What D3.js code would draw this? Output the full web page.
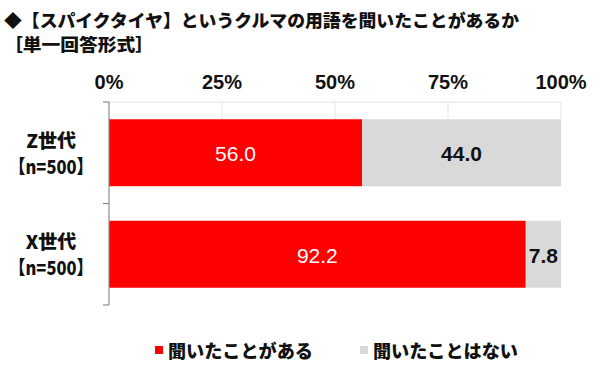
<!DOCTYPE html>
<html lang="ja">
<head>
<meta charset="utf-8">
<title>スパイクタイヤ</title>
<script src="https://cdn.jsdelivr.net/npm/d3@7/dist/d3.min.js"></script>
<style>
  body { margin: 0; background: #fff; }
  svg { display: block; font-family: "Liberation Sans", Arial, "Noto Sans CJK JP", sans-serif; }
  .jp { font-family: "Noto Sans CJK JP", sans-serif; font-weight: 900; }
</style>
</head>
<body>
<div id="chart"></div>
<script>
// data
var titleLines = ['◆【スパイクタイヤ】というクルマの用語を聞いたことがあるか', '［単一回答形式］'];
var titleWidths = [515, 150];
var groups = ['Z世代', 'X世代'];
var groupN = ['【n=500】', '【n=500】'];
var heard = [56.0, 92.2];
var notHeard = [44.0, 7.8];
var seriesNames = ['聞いたことがある', '聞いたことはない'];
var seriesColors = ['#ff0000', '#d9d9d9'];
var tickValues = [0, 25, 50, 75, 100];

var W = 600, H = 388;
var margin = { top: 102, right: 39, bottom: 83, left: 109 };

var svg = d3.select('#chart').append('svg')
  .attr('width', W).attr('height', H);

// title, squeezed to the reference width
svg.selectAll('.title').data(titleLines).enter().append('text')
  .attr('class', 'title jp')
  .attr('x', 4)
  .attr('y', function(d, i) { return 27 + i * 24; })
  .attr('font-size', 17.5)
  .attr('fill', '#111')
  .attr('textLength', function(d, i) { return titleWidths[i]; })
  .attr('lengthAdjust', 'spacingAndGlyphs')
  .text(function(d) { return d; });

var x = d3.scaleLinear().domain([0, 100]).range([margin.left, W - margin.right]);
var y = d3.scaleBand().domain(groups)
  .range([margin.top, H - margin.bottom])
  .paddingInner(0.34).paddingOuter(0.17);

// gridlines (only visible above the first bar)
var g = svg.append('g');
g.append('line')
  .attr('x1', x(0)).attr('x2', x(100))
  .attr('y1', margin.top).attr('y2', margin.top)
  .attr('stroke', '#e3e3e3').attr('stroke-width', 1);
g.selectAll('.grid').data(tickValues.slice(1)).enter().append('line')
  .attr('x1', function(d) { return x(d); }).attr('x2', function(d) { return x(d); })
  .attr('y1', margin.top).attr('y2', y(groups[0]))
  .attr('stroke', '#e3e3e3').attr('stroke-width', 1);

// x tick labels on top
svg.selectAll('.xt').data(tickValues).enter().append('text')
  .attr('x', function(d) { return x(d); })
  .attr('y', 89)
  .attr('text-anchor', 'middle')
  .attr('font-size', 20)
  .attr('font-weight', 'bold')
  .attr('fill', '#111')
  .text(function(d) { return d + '%'; });

// bars
var rows = groups.map(function(gname, i) { return { g: gname, n: groupN[i], a: heard[i], b: notHeard[i] }; });

svg.selectAll('.barA').data(rows).enter().append('rect')
  .attr('x', x(0))
  .attr('y', function(d) { return y(d.g); })
  .attr('width', function(d) { return x(d.a) - x(0); })
  .attr('height', y.bandwidth())
  .attr('fill', seriesColors[0]);

svg.selectAll('.barB').data(rows).enter().append('rect')
  .attr('x', function(d) { return x(d.a); })
  .attr('y', function(d) { return y(d.g); })
  .attr('width', function(d) { return x(d.a + d.b) - x(d.a); })
  .attr('height', y.bandwidth())
  .attr('fill', seriesColors[1]);

// value labels
svg.selectAll('.valA').data(rows).enter().append('text')
  .attr('x', function(d) { return (x(0) + x(d.a)) / 2; })
  .attr('y', function(d) { return y(d.g) + y.bandwidth() / 2; })
  .attr('dy', '0.4em')
  .attr('text-anchor', 'middle')
  .attr('font-size', 21)
  .attr('fill', '#fff')
  .text(function(d) { return d.a.toFixed(1); });

svg.selectAll('.valB').data(rows).enter().append('text')
  .attr('x', function(d) { return (x(d.a) + x(d.a + d.b)) / 2; })
  .attr('y', function(d) { return y(d.g) + y.bandwidth() / 2; })
  .attr('dy', '0.4em')
  .attr('text-anchor', 'middle')
  .attr('font-size', 21)
  .attr('font-weight', 'bold')
  .attr('fill', '#111')
  .text(function(d) { return d.b.toFixed(1); });

// left axis line + ticks at band boundaries
var bounds = [margin.top, (y(groups[0]) + y.bandwidth() + y(groups[1])) / 2, H - margin.bottom];
svg.append('line')
  .attr('x1', x(0)).attr('x2', x(0))
  .attr('y1', bounds[0]).attr('y2', bounds[2])
  .attr('stroke', '#8c8c8c').attr('stroke-width', 1.2);
svg.selectAll('.yt').data(bounds).enter().append('line')
  .attr('x1', x(0) - 6).attr('x2', x(0))
  .attr('y1', function(d) { return d; }).attr('y2', function(d) { return d; })
  .attr('stroke', '#8c8c8c').attr('stroke-width', 1.2);

// category labels
var lab = svg.selectAll('.cat').data(rows).enter().append('g')
  .attr('transform', function(d) { return 'translate(51,' + (y(d.g) + y.bandwidth() / 2) + ')'; });
lab.append('text').attr('class', 'jp')
  .attr('y', -5).attr('text-anchor', 'middle').attr('font-size', 19).attr('fill', '#111')
  .text(function(d) { return d.g; });
lab.append('text').attr('class', 'jp')
  .attr('y', 21).attr('text-anchor', 'middle').attr('font-size', 19).attr('fill', '#111')
  .attr('textLength', 84).attr('lengthAdjust', 'spacingAndGlyphs')
  .text(function(d) { return d.n; });

// legend
var legX = [155, 360];
var leg = svg.selectAll('.leg').data(seriesNames).enter().append('g')
  .attr('transform', function(d, i) { return 'translate(' + legX[i] + ',352)'; });
leg.append('rect')
  .attr('x', 0).attr('y', -6).attr('width', 8).attr('height', 8)
  .attr('fill', function(d, i) { return seriesColors[i]; });
leg.append('text').attr('class', 'jp')
  .attr('x', 13).attr('y', 6).attr('font-size', 18).attr('fill', '#111')
  .attr('textLength', 145).attr('lengthAdjust', 'spacingAndGlyphs')
  .text(function(d) { return d; });
</script>
</body>
</html>
